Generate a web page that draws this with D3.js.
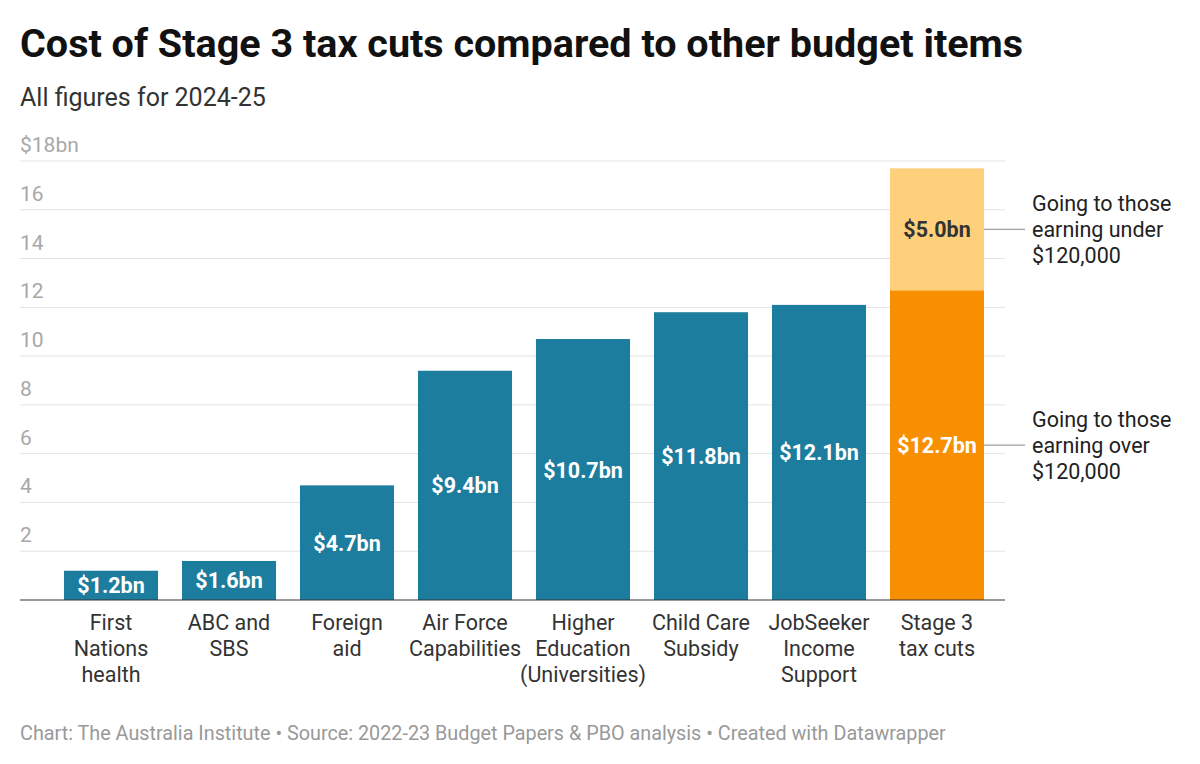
<!DOCTYPE html>
<html><head><meta charset="utf-8">
<script src="https://cdn.jsdelivr.net/npm/d3@7"></script>
<style>body{margin:0;background:#fff;font-family:Roboto,"Noto Sans",sans-serif}</style>
</head><body><svg id="c" width="1200" height="764"></svg>
<script>
const categories = [["First","Nations","health"],["ABC and","SBS"],["Foreign","aid"],["Air Force","Capabilities"],["Higher","Education","(Universities)"],["Child Care","Subsidy"],["JobSeeker","Income","Support"],["Stage 3","tax cuts"]];
const values = [1.2,1.6,4.7,9.4,10.7,11.8,12.1,12.7];
const stackTop = 5.0;
const ticks = [2,4,6,8,10,12,14,16,18];
const notes = [["Going to those","earning under","$120,000"],["Going to those","earning over","$120,000"]];

const svg = d3.select("#c");
const y = d3.scaleLinear().domain([0,18]).range([600,161]);
const x = d3.scaleBand().domain(d3.range(8)).range([52,996]).paddingInner(0.203).paddingOuter(0.1015);

svg.append("text").attr("x",20).attr("y",57).attr("font-size",39.5).attr("font-weight",700).attr("fill","#111").text("Cost of Stage 3 tax cuts compared to other budget items");
svg.append("text").attr("x",20).attr("y",106).attr("font-size",25).attr("fill","#333").text("All figures for 2024-25");

ticks.forEach(t=>{
  svg.append("line").attr("x1",20).attr("x2",1005).attr("y1",y(t)).attr("y2",y(t)).attr("stroke","#e3e3e3");
  svg.append("text").attr("x",20).attr("y",y(t)-9).attr("font-size",21).attr("fill","#a8a8a8").text(t===18?"$18bn":t);
});

values.forEach((v,i)=>{
  const last = i===7;
  svg.append("rect").attr("x",x(i)).attr("width",x.bandwidth()).attr("y",y(v)).attr("height",y(0)-y(v)).attr("fill",last?"#f78f00":"#1d7d9e");
  svg.append("text").attr("x",x(i)+x.bandwidth()/2).attr("y",(y(v)+y(0))/2+8).attr("text-anchor","middle").attr("font-size",21.5).attr("font-weight",700).attr("fill","#fff").text("$"+v.toFixed(1)+"bn");
  categories[i].forEach((l,j)=>svg.append("text").attr("x",x(i)+x.bandwidth()/2).attr("y",630+j*26).attr("text-anchor","middle").attr("font-size",21.5).attr("fill","#333").text(l));
});
const xl = x(7), stackEnd = values[7]+stackTop;
svg.append("rect").attr("x",xl).attr("width",x.bandwidth()).attr("y",y(stackEnd)).attr("height",y(values[7])-y(stackEnd)).attr("fill","#ffd07b");
svg.append("text").attr("x",xl+x.bandwidth()/2).attr("y",(y(stackEnd)+y(values[7]))/2+8).attr("text-anchor","middle").attr("font-size",21.5).attr("font-weight",700).attr("fill","#333").text("$"+stackTop.toFixed(1)+"bn");

svg.append("line").attr("x1",20).attr("x2",1005).attr("y1",y(0)).attr("y2",y(0)).attr("stroke","#333");

[(y(stackEnd)+y(values[7]))/2,(y(values[7])+y(0))/2].forEach((cy,k)=>{
  svg.append("line").attr("x1",xl+x.bandwidth()).attr("x2",1025).attr("y1",cy).attr("y2",cy).attr("stroke","#888");
  notes[k].forEach((l,j)=>svg.append("text").attr("x",1032).attr("y",cy-18+j*26).attr("font-size",21.5).attr("fill","#222").text(l));
});

svg.append("text").attr("x",20).attr("y",740).attr("font-size",19.8).attr("fill","#999").text("Chart: The Australia Institute • Source: 2022-23 Budget Papers & PBO analysis • Created with Datawrapper");
</script></body></html>
